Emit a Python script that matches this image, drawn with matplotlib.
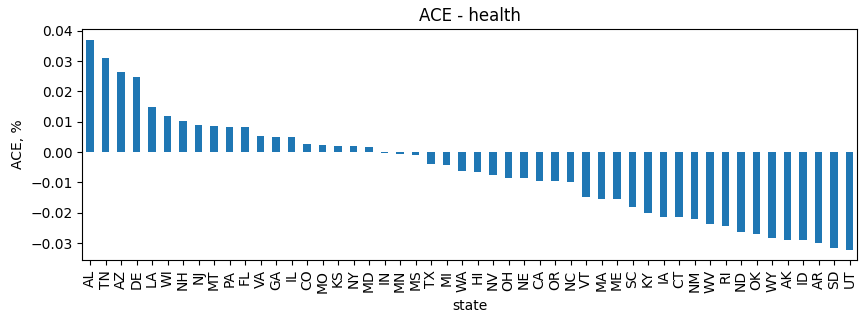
import numpy as np
import pandas as pd
import matplotlib
matplotlib.use("Agg")
import matplotlib.pyplot as plt

states = ["AL", "TN", "AZ", "DE", "LA", "WI", "NH", "NJ", "MT", "PA", "FL", "VA", "GA", "IL",
          "CO", "MO", "KS", "NY", "MD", "IN", "MN", "MS", "TX", "MI", "WA", "HI", "NV", "OH",
          "NE", "CA", "OR", "NC", "VT", "MA", "ME", "SC", "KY", "IA", "CT", "NM", "WV", "RI",
          "ND", "OK", "WY", "AK", "ID", "AR", "SD", "UT"]
ace = [0.0371, 0.0311, 0.0265, 0.0248, 0.0150, 0.0120, 0.0103, 0.0090, 0.0087, 0.0083,
       0.0083, 0.0054, 0.0050, 0.0050, 0.0027, 0.0024, 0.0021, 0.0021, 0.0017, -0.0003,
       -0.0006, -0.0008, -0.0038, -0.0044, -0.0061, -0.0064, -0.0074, -0.0084, -0.0084,
       -0.0094, -0.0094, -0.0097, -0.0147, -0.0153, -0.0156, -0.0180, -0.0199, -0.0213,
       -0.0213, -0.0222, -0.0236, -0.0242, -0.0262, -0.0269, -0.0282, -0.0288, -0.0288,
       -0.0298, -0.0315, -0.0321]

s = pd.Series(ace, index=pd.Index(states, name="state"))

fig, ax = plt.subplots(figsize=(8.66, 3.23), dpi=100)
s.plot.bar(ax=ax, color="#1f77b4")
ax.set_title("ACE - health")
ax.set_ylabel("ACE, %")
ax.set_xlabel("state")
plt.subplots_adjust(left=0.095, right=0.990, top=0.910, bottom=0.195)
plt.savefig("out.png", dpi=100)
